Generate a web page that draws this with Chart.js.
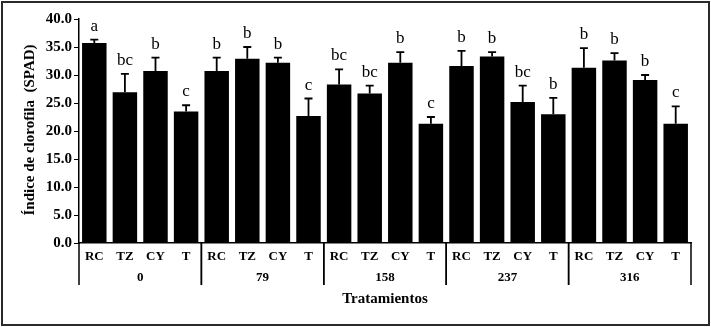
<!DOCTYPE html>
<html>
<head>
<meta charset="utf-8">
<script src="https://cdn.jsdelivr.net/npm/chart.js@4"></script>
<style>
    body { margin: 0; background: #fff; }
    canvas { display: block; background: #fff; }
</style>
</head>
<body>
<canvas id="chart" width="711" height="327"></canvas>
<script>
// Chlorophyll index (SPAD) by treatment, grouped by dose
const treatments = ['RC', 'TZ', 'CY', 'T'];
const doses = ['0', '79', '158', '237', '316'];

const labels = doses.flatMap(d => treatments.map(t => t));
const means = [
    35.7, 26.9, 30.7, 23.5,
    30.7, 32.9, 32.2, 22.7,
    28.3, 26.7, 32.2, 21.3,
    31.6, 33.3, 25.2, 23.0,
    31.3, 32.6, 29.1, 21.3
];
const errors = [
    0.6, 3.3, 2.4, 1.1,
    2.4, 2.1, 0.9, 3.1,
    2.7, 1.4, 1.9, 1.2,
    2.7, 0.8, 2.9, 2.9,
    3.5, 1.3, 0.9, 3.1
];
const letters = [
    'a', 'bc', 'b', 'c',
    'b', 'b', 'b', 'c',
    'bc', 'bc', 'b', 'c',
    'b', 'b', 'bc', 'b',
    'b', 'b', 'b', 'c'
];
const yTicks = [0, 5, 10, 15, 20, 25, 30, 35, 40];

const serif = "'Liberation Serif', 'Times New Roman', serif";

// error bars, letters, grouped x labels, titles and frame
const annotate = {
    id: 'annotate',
    afterDatasetsDraw(chart) {
        const { ctx, scales: { x, y }, chartArea } = chart;
        ctx.save();

        // upper error whiskers
        ctx.strokeStyle = '#000';
        ctx.lineWidth = 1.8;
        means.forEach((m, i) => {
            const cx = x.getPixelForValue(i);
            const top = y.getPixelForValue(m + errors[i]);
            ctx.beginPath();
            ctx.moveTo(cx, y.getPixelForValue(m));
            ctx.lineTo(cx, top);
            ctx.moveTo(cx - 4, top);
            ctx.lineTo(cx + 4, top);
            ctx.stroke();
        });

        // significance letters
        ctx.fillStyle = '#000';
        ctx.font = '17px ' + serif;
        ctx.textAlign = 'center';
        ctx.textBaseline = 'alphabetic';
        means.forEach((m, i) => {
            ctx.fillText(letters[i], x.getPixelForValue(i), y.getPixelForValue(m + errors[i]) - 9);
        });

        // treatment labels
        ctx.font = 'bold 13px ' + serif;
        ctx.textBaseline = 'middle';
        labels.forEach((l, i) => {
            ctx.fillText(l, x.getPixelForValue(i), chartArea.bottom + 14);
        });

        // dose group labels and separators
        const n = treatments.length;
        ctx.lineWidth = 1.5;
        doses.forEach((d, g) => {
            const left = x.getPixelForValue(g * n) - (x.width / labels.length) / 2;
            const right = x.getPixelForValue(g * n + n - 1) + (x.width / labels.length) / 2;
            ctx.fillText(d, (left + right) / 2, chartArea.bottom + 35);
            [left, right].forEach(px => {
                ctx.beginPath();
                ctx.moveTo(px, chartArea.bottom);
                ctx.lineTo(px, chartArea.bottom + 42);
                ctx.stroke();
            });
        });

        // axis titles
        ctx.font = 'bold 15px ' + serif;
        ctx.fillText('Tratamientos', (chartArea.left + chartArea.right) / 2, chartArea.bottom + 56);
        ctx.translate(30, (chartArea.top + chartArea.bottom) / 2 - 1);
        ctx.rotate(-Math.PI / 2);
        ctx.fillText('Índice de clorofila  (SPAD)', 0, 0);
        ctx.restore();

        // outer frame
        ctx.save();
        ctx.strokeStyle = '#2a2a2a';
        ctx.lineWidth = 2;
        ctx.strokeRect(2, 2, chart.width - 4, chart.height - 4);
        ctx.restore();
    }
};

new Chart(document.getElementById('chart'), {
    type: 'bar',
    plugins: [annotate],
    data: {
        labels,
        datasets: [{
            data: means,
            backgroundColor: '#000',
            borderWidth: 0,
            barPercentage: 0.8,
            categoryPercentage: 1
        }]
    },
    options: {
        responsive: false,
        animation: false,
        devicePixelRatio: 1,
        layout: { padding: { top: 19, right: 20, bottom: 0, left: 0 } },
        plugins: {
            legend: { display: false },
            tooltip: { enabled: false }
        },
        scales: {
            x: {
                afterFit: s => { s.height = 84; },
                ticks: { display: false },
                grid: { drawOnChartArea: false, drawTicks: false },
                border: { color: '#000', width: 1.5 }
            },
            y: {
                min: 0,
                max: 40,
                afterFit: s => { s.width = 79; },
                afterBuildTicks: s => { s.ticks = yTicks.map(v => ({ value: v })); },
                ticks: {
                    color: '#000',
                    padding: 2,
                    font: { family: serif, size: 15, weight: 'bold' },
                    callback: v => v.toFixed(1)
                },
                grid: { drawOnChartArea: false, drawTicks: true, tickLength: 5, color: '#000' },
                border: { color: '#000', width: 1.5 }
            }
        }
    }
});
</script>
</body>
</html>
